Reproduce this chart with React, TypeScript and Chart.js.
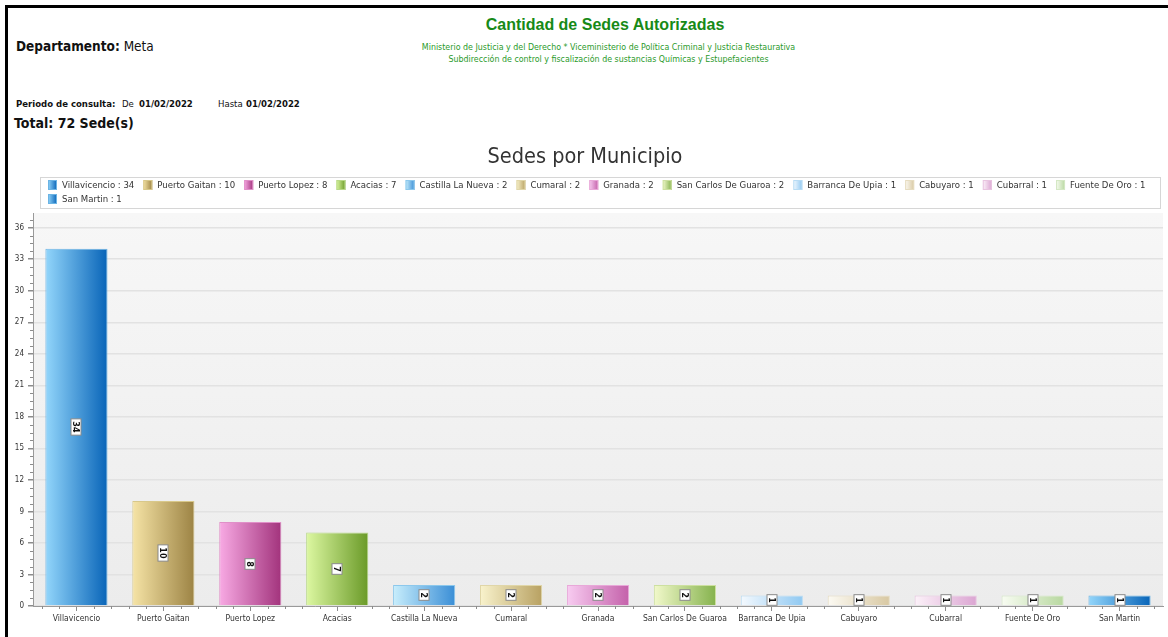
import React, { useEffect, useRef } from 'react';
import { Chart, registerables } from 'chart.js';

Chart.register(...registerables);

const municipios = [
  'Villavicencio', 'Puerto Gaitan', 'Puerto Lopez', 'Acacias', 'Castilla La Nueva', 'Cumaral',
  'Granada', 'San Carlos De Guaroa', 'Barranca De Upia', 'Cabuyaro', 'Cubarral', 'Fuente De Oro', 'San Martin',
];
const sedes = [34, 10, 8, 7, 2, 2, 2, 2, 1, 1, 1, 1, 1];
const yTickValues = [0, 3, 6, 9, 12, 15, 18, 21, 24, 27, 30, 33, 36];
const yAxisMax = 37.4;

const chartTitle = 'Sedes por Municipio';
const reportTitle = 'Cantidad de Sedes Autorizadas';
const reportSub1 = 'Ministerio de Justicia y del Derecho * Viceministerio de Política Criminal y Justicia Restaurativa';
const reportSub2 = 'Subdirección de control y fiscalización de sustancias Químicas y Estupefacientes';
const departamento = 'Meta';
const fechaDesde = '01/02/2022';
const fechaHasta = '01/02/2022';
const totalSedes = 72;

// styles: [light, dark, border]
const palette: [string, string, string][] = [
  ['#93d6fb', '#0864b8', '#6cb4e4'],
  ['#f6e4a6', '#9c8344', '#d8c88a'],
  ['#f8aae4', '#a2337c', '#e090c8'],
  ['#ddf8a2', '#6a9a28', '#b8d888'],
  ['#c8eefc', '#3a8ed6', '#8cc8ec'],
  ['#f9f3cd', '#b8a162', '#e0d6a8'],
  ['#f8ccf1', '#c461aa', '#e8a8d8'],
  ['#f2f9cb', '#85b24d', '#cde0a0'],
  ['#f4f9fe', '#90c9f2', '#b8dcf4'],
  ['#fcfaf3', '#d8c8a2', '#e6dcc0'],
  ['#fcf2f9', '#dba5d2', '#e8c4e0'],
  ['#f8fcf2', '#b8d8a0', '#d4e8c4'],
  ['#93d6fb', '#0864b8', '#6cb4e4'],
];

const FONT = '"DejaVu Sans Condensed", "DejaVu Sans", sans-serif';

const plotBg = {
  id: 'plotBg',
  beforeDraw(chart: any) {
    const { ctx, chartArea: a } = chart;
    if (!a) return;
    ctx.save();
    const g = ctx.createLinearGradient(0, a.top, 0, a.bottom);
    g.addColorStop(0, '#f7f7f7');
    g.addColorStop(1, '#ececec');
    ctx.fillStyle = g;
    ctx.fillRect(a.left, a.top, a.right - a.left, a.bottom - a.top);
    ctx.restore();
  },
};

const minorTicks = {
  id: 'minorTicks',
  afterDraw(chart: any) {
    const { ctx, chartArea: a, scales } = chart;
    const y = scales.y, x = scales.x;
    ctx.save();
    ctx.strokeStyle = '#8c8c8c';
    ctx.lineWidth = 1;
    ctx.beginPath();
    for (let k = 0; k * 0.75 <= yAxisMax; k++) {
      if (k % 4 === 0) continue;
      const py = Math.round(y.getPixelForValue(k * 0.75)) + 0.5;
      ctx.moveTo(a.left - 3, py);
      ctx.lineTo(a.left, py);
    }
    const step = (x.getPixelForValue(1) - x.getPixelForValue(0)) / 5;
    const c0 = x.getPixelForValue(0);
    for (let k = -2; c0 + k * step <= a.right; k++) {
      if (k % 5 === 0) continue;
      const px = Math.round(c0 + k * step) + 0.5;
      if (px < a.left) continue;
      ctx.moveTo(px, a.bottom);
      ctx.lineTo(px, a.bottom + 3);
    }
    ctx.stroke();
    ctx.restore();
  },
};

const valueLabels = {
  id: 'valueLabels',
  afterDatasetsDraw(chart: any) {
    const { ctx } = chart;
    const meta = chart.getDatasetMeta(0);
    const data = chart.data.datasets[0].data;
    ctx.save();
    ctx.font = `bold 9px ${FONT}`;
    meta.data.forEach((el: any, i: number) => {
      const text = String(data[i]);
      const tw = ctx.measureText(text).width;
      const cx = el.x;
      const cy = (el.y + el.base) / 2;
      const w = tw + 5;
      const h = 10;
      ctx.save();
      ctx.translate(Math.round(cx), Math.round(cy));
      ctx.rotate(Math.PI / 2);
      ctx.fillStyle = '#ffffff';
      ctx.fillRect(-w / 2, -h / 2, w, h);
      ctx.strokeStyle = '#8a8a8a';
      ctx.lineWidth = 1;
      ctx.strokeRect(-w / 2, -h / 2, w, h);
      ctx.fillStyle = '#111111';
      ctx.textAlign = 'center';
      ctx.textBaseline = 'middle';
      ctx.fillText(text, 0, 0.5);
      ctx.restore();
    });
    ctx.restore();
  },
};

const boxLegend = {
  id: 'boxLegend',
  afterDraw(chart: any) {
    const { ctx, chartArea: a } = chart;
    const labels = chart.data.labels as string[];
    const data = chart.data.datasets[0].data as number[];
    const bx0 = a.left + 7, bx1 = a.right - 3;
    const by0 = a.top - 36, by1 = a.top - 5;
    ctx.save();
    ctx.fillStyle = '#ffffff';
    ctx.fillRect(bx0, by0, bx1 - bx0, by1 - by0);
    ctx.strokeStyle = '#d6d6d6';
    ctx.lineWidth = 1;
    ctx.strokeRect(bx0 + 0.5, by0 + 0.5, bx1 - bx0, by1 - by0);
    ctx.font = `9.5px ${FONT}`;
    ctx.textBaseline = 'middle';
    ctx.textAlign = 'left';
    let x = bx0 + 8;
    let row = 0;
    labels.forEach((lab, i) => {
      const text = `${lab} : ${data[i]}`;
      const tw = ctx.measureText(text).width;
      const iw = 9 + 5 + tw;
      if (x + iw > bx1 - 4) {
        row++;
        x = bx0 + 8;
      }
      const cy = by0 + 8 + row * 14;
      const [l, d, b] = palette[i % palette.length];
      const g = ctx.createLinearGradient(x, 0, x + 9, 0);
      g.addColorStop(0, l);
      g.addColorStop(1, d);
      ctx.fillStyle = g;
      ctx.fillRect(x, cy - 5, 9, 10);
      ctx.strokeStyle = b;
      ctx.strokeRect(x + 0.5, cy - 4.5, 8, 9);
      ctx.fillStyle = '#333333';
      ctx.fillText(text, x + 14, cy + 0.5);
      x += iw + 9;
    });
    ctx.restore();
  },
};

function BarChart() {
  const ref = useRef<HTMLCanvasElement | null>(null);
  useEffect(() => {
    if (!ref.current) return;
    const chart = new Chart(ref.current, {
      type: 'bar',
      data: {
        labels: municipios,
        datasets: [
          {
            label: 'Sedes',
            data: sedes,
            backgroundColor: (c: any) => {
              const ch = c.chart;
              const i = c.dataIndex;
              const [l, d] = palette[i % palette.length];
              const xs = ch.scales?.x;
              if (!xs || !ch.chartArea || i === undefined) return d;
              const cw = xs.getPixelForValue(1) - xs.getPixelForValue(0);
              const center = xs.getPixelForValue(i);
              const bw = cw * 0.715;
              const g = ch.ctx.createLinearGradient(center - bw / 2, 0, center + bw / 2, 0);
              g.addColorStop(0, l);
              g.addColorStop(1, d);
              return g;
            },
            borderColor: (c: any) => palette[c.dataIndex % palette.length][2],
            borderWidth: 1,
            borderSkipped: 'bottom',
            barPercentage: 0.715,
            categoryPercentage: 1,
          },
        ],
      },
      options: {
        animation: false,
        responsive: false,
        maintainAspectRatio: false,
        layout: { padding: { left: 7, right: 5, top: 0, bottom: 0 } },
        plugins: {
          legend: { display: false },
          tooltip: { enabled: false },
          title: {
            display: true,
            text: chartTitle,
            color: '#333333',
            font: { family: FONT, size: 21.5, weight: 'normal' },
            padding: { top: 5, bottom: 42.2 },
          },
        },
        scales: {
          x: {
            offset: true,
            grid: {
              display: true,
              drawOnChartArea: false,
              offset: false,
              tickLength: 5,
              tickColor: '#8c8c8c',
            },
            border: { display: true, color: '#9a9a9a', width: 1 },
            ticks: {
              color: '#333333',
              font: { family: FONT, size: 8.5 },
              maxRotation: 0,
              autoSkip: false,
              padding: 3,
            },
            afterFit: (s: any) => {
              s.height = 31;
            },
          },
          y: {
            min: 0,
            max: yAxisMax,
            grid: {
              color: '#e2e2e2',
              lineWidth: 1.5,
              tickLength: 5,
              tickColor: '#8c8c8c',
            },
            border: { display: true, color: '#9a9a9a', width: 1 },
            ticks: {
              color: '#333333',
              font: { family: FONT, size: 8 },
              padding: 4,
              includeBounds: false,
            },
            afterBuildTicks: (s: any) => {
              s.ticks = yTickValues.map((v) => ({ value: v }));
            },
            afterFit: (s: any) => {
              s.width = 26;
            },
          },
        },
      },
      plugins: [plotBg, valueLabels, minorTicks, boxLegend],
    } as any);
    return () => chart.destroy();
  }, []);
  return <canvas ref={ref} width={1168} height={497} style={{ position: 'absolute', left: 0, top: 140, width: 1168, height: 497 }} />;
}

const abs = (left: number, cy: number, size: number): React.CSSProperties => ({
  position: 'absolute',
  left,
  top: cy - size * 0.6,
  height: size * 1.2,
  lineHeight: `${size * 1.2}px`,
  fontSize: size,
  whiteSpace: 'nowrap',
  fontFamily: FONT,
  color: '#111',
});

export default function App() {
  useEffect(() => {
    document.body.style.margin = '0';
  }, []);
  return (
    <div style={{ position: 'relative', width: 1168, height: 637, overflow: 'hidden', background: '#fff' }}>
      <div style={{ position: 'absolute', left: 5, top: 5, width: 1163, height: 3, background: '#000' }} />
      <div style={{ position: 'absolute', left: 5, top: 5, width: 3, height: 632, background: '#000' }} />

      <div style={{ ...abs(0, 25, 16), width: 1210, textAlign: 'center', fontFamily: '"Liberation Sans", Arial, sans-serif', fontWeight: 'bold', color: '#178a17' }}>
        {reportTitle}
      </div>
      <div style={{ ...abs(0, 47, 8.8), width: 1217, textAlign: 'center', color: '#2a9a2a' }}>{reportSub1}</div>
      <div style={{ ...abs(0, 59, 8.8), width: 1217, textAlign: 'center', color: '#2a9a2a' }}>{reportSub2}</div>

      <div style={abs(16, 46, 13.5)}>
        <b>Departamento:</b> {departamento}
      </div>

      <div style={{ ...abs(16, 104, 9.5), fontWeight: 'bold' }}>Periodo de consulta:</div>
      <div style={abs(122, 104, 9.5)}>De</div>
      <div style={{ ...abs(139, 104, 9.5), fontWeight: 'bold' }}>{fechaDesde}</div>
      <div style={abs(218, 104, 9.5)}>Hasta</div>
      <div style={{ ...abs(246, 104, 9.5), fontWeight: 'bold' }}>{fechaHasta}</div>

      <div style={{ ...abs(14, 123, 14), fontWeight: 'bold' }}>Total: {totalSedes} Sede(s)</div>

      <BarChart />
    </div>
  );
}
